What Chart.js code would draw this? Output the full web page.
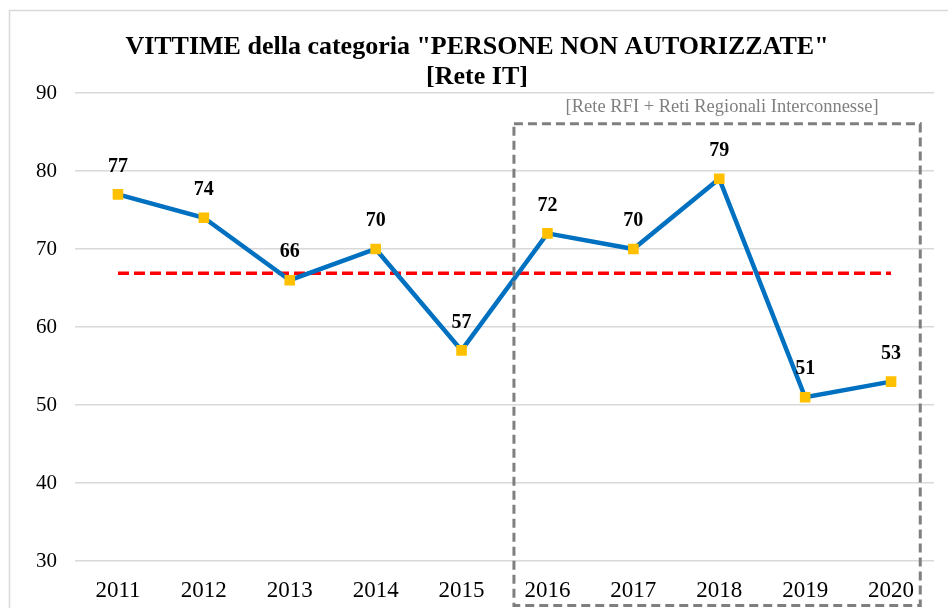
<!DOCTYPE html>
<html>
<head>
<meta charset="utf-8">
<script src="https://cdn.jsdelivr.net/npm/chart.js@4/dist/chart.umd.min.js"></script>
<style>
  html, body { margin: 0; padding: 0; background: #fff; }
  #wrap { width: 948px; height: 608px; position: relative; }
</style>
</head>
<body>
<div id="wrap"><canvas id="chart" width="948" height="608"></canvas></div>
<script>
// dati
const anni = ['2011', '2012', '2013', '2014', '2015', '2016', '2017', '2018', '2019', '2020'];
const vittime = [77, 74, 66, 70, 57, 72, 70, 79, 51, 53];
const media = [66.9, 66.9, 66.9, 66.9, 66.9, 66.9, 66.9, 66.9, 66.9, 66.9];
const yTicks = [30, 40, 50, 60, 70, 80, 90];
const titolo = ['VITTIME della categoria "PERSONE NON AUTORIZZATE"', '[Rete IT]'];
const notaRiquadro = '[Rete RFI + Reti Regionali Interconnesse]';

const serif = '"Liberation Serif", "Times New Roman", serif';

// cornice, titolo, riquadro tratteggiato ed etichette dei valori
const decorPlugin = {
  id: 'decor',
  beforeDraw(chart) {
    const c = chart.ctx;
    c.save();
    c.strokeStyle = '#d9d9d9';
    c.lineWidth = 1.5;
    c.strokeRect(9.5, 10.5, 1200, 1200);
    // titolo centrato sulla pagina
    c.fillStyle = '#000';
    c.font = 'bold 26px ' + serif;
    c.textAlign = 'center';
    c.textBaseline = 'alphabetic';
    c.fillText(titolo[0], 477, 54);
    c.fillText(titolo[1], 477, 84);
    c.restore();
  },
  afterDatasetsDraw(chart) {
    const c = chart.ctx;
    const x = chart.scales.x, y = chart.scales.y;
    // riquadro 2016-2020 (indici frazionari sulla scala per categorie)
    const left = x.getPixelForValue(4.61);
    const right = x.getPixelForValue(9.34);
    const top = y.getPixelForValue(86.05);
    const bottom = chart.height - 2.5;
    c.save();
    c.strokeStyle = '#7f7f7f';
    c.lineWidth = 3;
    c.setLineDash([9, 5]);
    c.strokeRect(left, top, right - left, bottom - top);
    c.setLineDash([]);
    c.fillStyle = '#808080';
    c.font = '18.5px ' + serif;
    c.textAlign = 'center';
    c.textBaseline = 'middle';
    c.fillText(notaRiquadro, (left + right) / 2 + 5, top - 17);

    // etichette dei valori
    const meta = chart.getDatasetMeta(0);
    c.fillStyle = '#000';
    c.font = 'bold 20px ' + serif;
    meta.data.forEach((pt, i) => {
      c.fillText(String(vittime[i]), pt.x, pt.y - 28);
    });
    c.restore();
  }
};

new Chart(document.getElementById('chart'), {
  type: 'line',
  data: {
    labels: anni,
    datasets: [{
      label: 'Vittime',
      data: vittime,
      borderColor: '#0070C0',
      borderWidth: 4.5,
      pointStyle: 'rect',
      pointRadius: 7.5,
      pointBackgroundColor: '#FFC000',
      pointBorderWidth: 0,
      tension: 0,
      order: 0
    }, {
      label: 'Media',
      data: media,
      borderColor: '#FF0000',
      borderWidth: 3.5,
      borderDash: [11, 5],
      pointRadius: 0,
      tension: 0,
      order: 1
    }]
  },
  options: {
    responsive: false,
    animation: false,
    layout: { padding: { top: 93, left: 0, right: 14, bottom: 0 } },
    plugins: {
      legend: { display: false },
      tooltip: { enabled: false },
      title: { display: false }
    },
    scales: {
      x: {
        offset: true,
        afterFit: (s) => { s.height = 47; },
        grid: { display: false, drawTicks: false },
        border: { display: false },
        ticks: {
          color: '#000',
          font: { family: serif, size: 23 },
          padding: 16,
          maxRotation: 0,
          autoSkip: false
        }
      },
      y: {
        min: 30,
        max: 90,
        afterBuildTicks: (s) => { s.ticks = yTicks.map(v => ({ value: v })); },
        afterFit: (s) => { s.width = 75; },
        grid: { color: '#d9d9d9', lineWidth: 1.5, drawTicks: false },
        border: { display: false },
        ticks: {
          color: '#000',
          font: { family: serif, size: 21 },
          padding: 18
        }
      }
    }
  },
  plugins: [decorPlugin]
});
</script>
</body>
</html>
